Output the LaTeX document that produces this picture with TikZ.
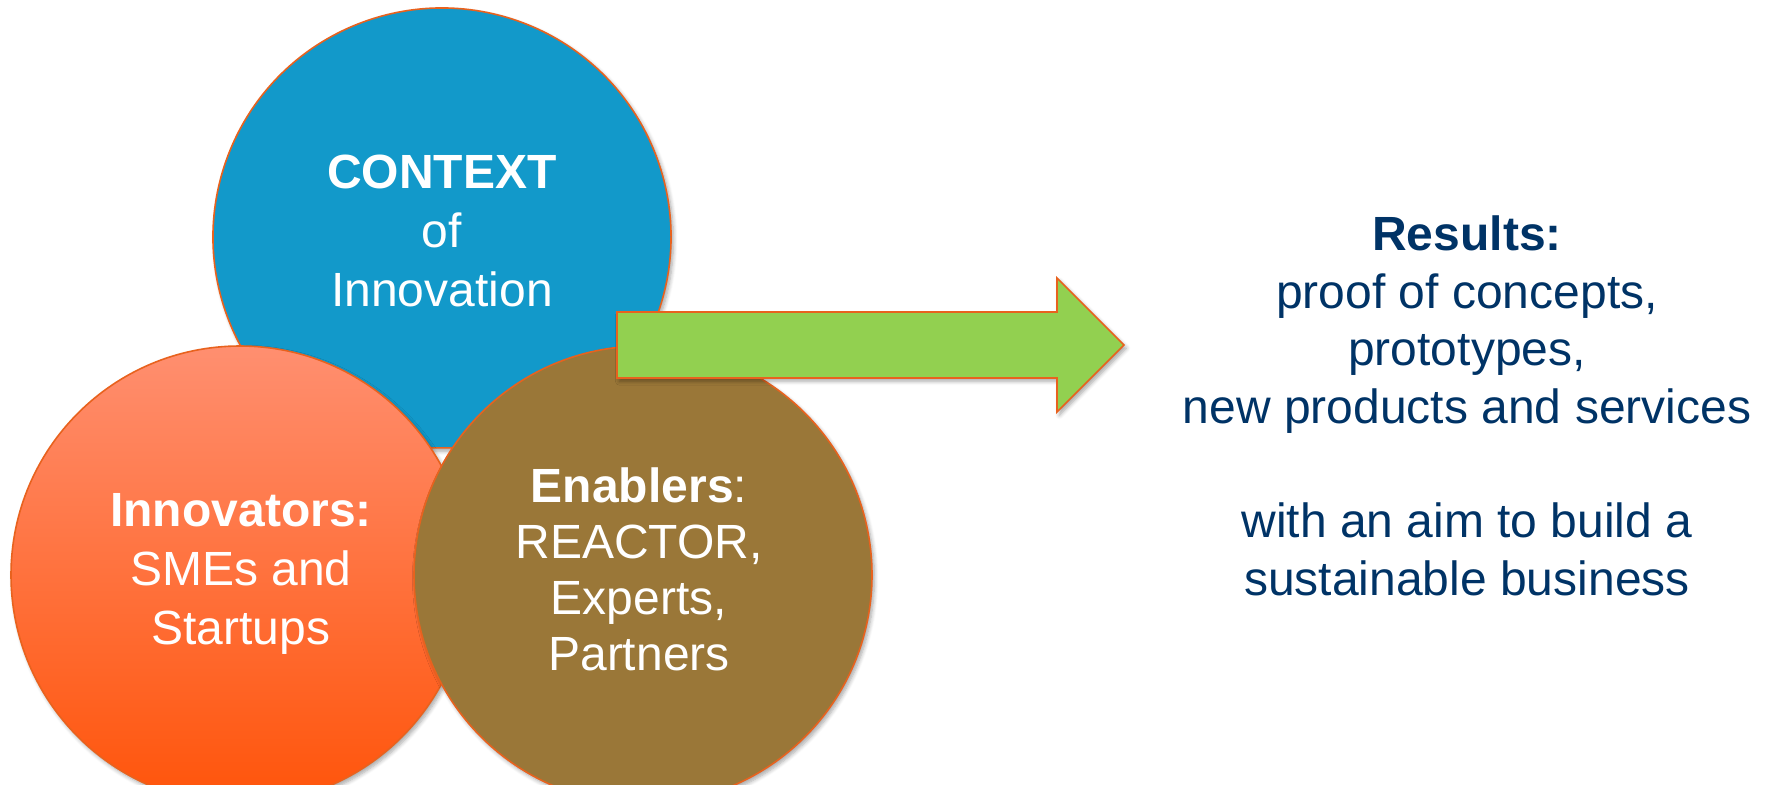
\documentclass[tikz,border=0pt]{standalone}
\usepackage{fontspec}
\setmainfont{Liberation Sans}
\usetikzlibrary{shadows.blur}
\definecolor{ctxblue}{RGB}{18,153,202}
\definecolor{innovtop}{RGB}{255,143,112}
\definecolor{innovbottom}{RGB}{255,84,10}
\definecolor{enabbrown}{RGB}{154,119,56}
\definecolor{arrowgreen}{RGB}{146,208,80}
\definecolor{rimorange}{RGB}{232,98,30}
\definecolor{resultnavy}{RGB}{0,51,102}
\begin{document}
\begin{tikzpicture}[x=0.5pt,y=0.5pt,
  softshadow/.style={blur shadow={shadow xshift=1.2pt, shadow yshift=-1.6pt,
      shadow blur steps=6, shadow blur radius=2pt, shadow opacity=35}},
  bubble/.style={draw=rimorange, line width=0.8pt, softshadow},
  bubbletext/.style={text=white, align=center,
      font=\fontsize{24}{29.5}\selectfont},
  resulttext/.style={text=resultnavy, align=center,
      font=\fontsize{24}{28.7}\selectfont}]
  \useasboundingbox (0,0) rectangle (1767,784);
  \clip (0,0) rectangle (1767,784);

  % context bubble, its bottom cut flat
  \path[bubble, fill=ctxblue] (442,547) ++(-67.1:229)
    arc[start angle=-67.1, end angle=247.1, radius=229] -- cycle;
  % innovators bubble
  \path[bubble, top color=innovtop, bottom color=innovbottom]
    (240,209) circle[radius=229];
  % enablers bubble
  \path[bubble, fill=enabbrown] (643,209) circle[radius=229];
  % arrow towards the results
  \path[bubble, fill=arrowgreen] (617,472) -- (1057,472) -- (1057,506)
    -- (1124,439) -- (1057,372) -- (1057,406) -- (617,406) -- cycle;

  \node[bubbletext] (context) at (442,553)
    {\textbf{CONTEXT}\\of\\Innovation};
  \node[bubbletext] (innovators) at (241,210)
    {\textbf{Innovators:}\\SMEs and\\Startups};
  \node[bubbletext, font=\fontsize{24}{28}\selectfont] (enablers) at (639,215)
    {\textbf{Enablers}:\\REACTOR,\\Experts,\\Partners};
  \node[resulttext] (results) at (1467,378)
    {\textbf{Results:}\\proof of concepts,\\prototypes,\\new products and services\\[28.7pt]
     with an aim to build a\\sustainable business};
\end{tikzpicture}
\end{document}
